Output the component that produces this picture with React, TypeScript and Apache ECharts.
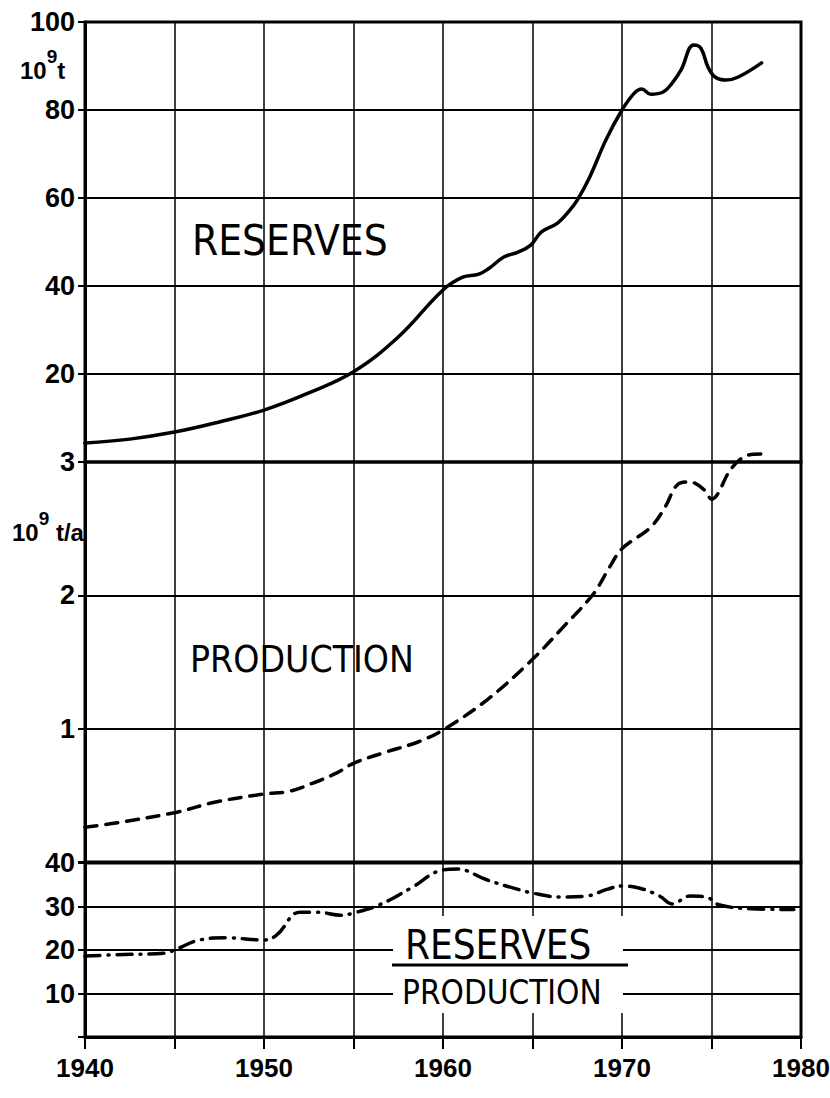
import React, { useEffect, useRef } from "react";
import * as echarts from "echarts";

const LABEL_FONT = "'DejaVu Sans Condensed', 'DejaVu Sans', sans-serif";
const TICK_FONT = "'Liberation Sans', Arial, sans-serif";

// x axis
const xMin = 1940;
const xMax = 1980;
const xStep = 5;

// Reserves (10^9 t)
const reserveYears = [1940, 1942.5, 1945, 1947.5, 1950, 1952.5, 1955, 1957.5, 1960, 1961.1, 1962, 1962.6, 1963.4, 1964.2, 1964.9, 1965.5, 1966.4, 1967.1, 1967.5, 1968.2, 1969.1, 1970, 1970.7, 1971.1, 1971.6, 1972.3, 1972.8, 1973.3, 1974, 1974.4, 1974.8, 1975.2, 1975.8, 1976.5, 1977.8];
const reserveValues = [4.3, 5.2, 6.8, 9.1, 11.8, 15.7, 20.5, 28.4, 39.1, 42.0, 42.7, 44.1, 46.6, 47.7, 49.3, 52.3, 54.3, 57.3, 59.5, 64.8, 73.2, 80, 83.9, 84.8, 83.6, 84.1, 86.1, 89.1, 94.8, 94.1, 89.8, 87.5, 86.8, 87.5, 90.7];

// Production (10^9 t/a)
const productionYears = [1940, 1941.6, 1945, 1947.3, 1950, 1951.4, 1952.7, 1954.1, 1955, 1956.7, 1958.6, 1960, 1962.5, 1965, 1966.7, 1968.4, 1969.3, 1970, 1971.6, 1972.4, 1973.1, 1973.8, 1974.6, 1975, 1976.1, 1977, 1977.8];
const productionValues = [0.26, 0.29, 0.37, 0.45, 0.51, 0.53, 0.59, 0.67, 0.74, 0.82, 0.9, 0.99, 1.22, 1.52, 1.76, 2.01, 2.21, 2.35, 2.51, 2.66, 2.83, 2.85, 2.79, 2.72, 2.95, 3.05, 3.06];

// Reserves / Production (years)
const ratioYears = [1940, 1941.7, 1944.5, 1945, 1946.4, 1947.9, 1950, 1950.7, 1952, 1953, 1954.3, 1955, 1956.4, 1958.2, 1960, 1960.8, 1962.4, 1963.8, 1965, 1966.5, 1968, 1969.2, 1970, 1971, 1972.1, 1972.8, 1973.8, 1974.7, 1975.4, 1977.2, 1979.6];
const ratioValues = [18.6, 18.9, 19.3, 20, 22.3, 22.8, 22.3, 23.4, 28.7, 28.7, 28, 28.5, 30.3, 34.2, 38.4, 38.6, 36.2, 34.4, 33.1, 32.2, 32.4, 34, 34.7, 34.2, 32.4, 30.6, 32.4, 32.2, 30.4, 29.5, 29.3];

// panel y scales
const reserveAxis = { min: 0, max: 100, interval: 20 };
const productionAxis = { min: 0, max: 3, interval: 1 };
const ratioAxis = { min: 0, max: 40, interval: 10 };

const pairs = (xs: number[], ys: number[]) => xs.map((x, i) => [x, ys[i]]);

export default function App() {
  const ref = useRef<HTMLDivElement>(null);
  useEffect(() => {
    if (!ref.current) return;
    const chart = echarts.init(ref.current, undefined, { renderer: "svg" });
    const gridBase = {
      left: 85,
      right: 29,
      show: true,
      borderColor: "#000",
      borderWidth: 3,
      backgroundColor: "transparent",
      outerBoundsMode: "none",
      containLabel: false,
    };
    const grids = [
      { ...gridBase, top: 22, height: 440 },
      { ...gridBase, top: 462, height: 400 },
      { ...gridBase, top: 863, height: 174 },
    ];
    const xAxisBase = (i: number) => ({
      type: "value",
      gridIndex: i,
      min: xMin,
      max: xMax,
      interval: xStep,
      axisLine: { show: i === 2, lineStyle: { color: "#000", width: 3 } },
      axisTick: { show: i === 2, length: 12, lineStyle: { color: "#000", width: 2 } },
      axisLabel: {
        show: i === 2,
        formatter: (v: number) => (v % 10 === 0 ? String(v) : ""),
        color: "#000",
        fontSize: 26,
        fontFamily: TICK_FONT,
        fontWeight: "bold",
        margin: 18,
      },
      splitLine: { show: true, lineStyle: { color: "#000", width: 1.5 } },
    });
    const yAxisBase = (i: number, ax: any) => ({
      type: "value",
      gridIndex: i,
      ...ax,
      axisLine: { show: true, lineStyle: { color: "#000", width: 3 } },
      axisTick: { show: true, length: 7, lineStyle: { color: "#000", width: 2 } },
      axisLabel: {
        formatter: (v: number) => (v === 0 ? "" : String(v)),
        color: "#000",
        fontSize: 27,
        fontFamily: TICK_FONT,
        fontWeight: "bold",
        margin: 10,
      },
      splitLine: { show: true, lineStyle: { color: "#000", width: 2 } },
    });
    const txt = (text: string, x: number, y: number, size: number) => ({
      type: "text",
      x,
      y,
      z: 100,
      style: {
        text,
        fill: "#000",
        fontSize: size,
        fontFamily: LABEL_FONT,
        textAlign: "left",
        textVerticalAlign: "middle",
        align: "left",
        verticalAlign: "middle",
      },
    });
    const unit = (text: string, x: number, y: number) => ({
      type: "text",
      x,
      y,
      z: 100,
      style: {
        text,
        fill: "#000",
        fontFamily: TICK_FONT,
        fontWeight: "bold",
        fontSize: 24,
        textAlign: "left",
        textVerticalAlign: "middle",
        align: "left",
        verticalAlign: "middle",
        rich: {
          a: { fontFamily: TICK_FONT, fontWeight: "bold", fontSize: 24, lineHeight: 46, fill: "#000" },
          s: { fontFamily: TICK_FONT, fontWeight: "bold", fontSize: 19, lineHeight: 19, verticalAlign: "top", fill: "#000" },
        },
      },
    });
    chart.setOption({
      animation: false,
      backgroundColor: "#fff",
      grid: grids,
      xAxis: [xAxisBase(0), xAxisBase(1), xAxisBase(2)],
      yAxis: [yAxisBase(0, reserveAxis), yAxisBase(1, productionAxis), yAxisBase(2, ratioAxis)],
      series: [
        {
          type: "line",
          name: "RESERVES",
          xAxisIndex: 0,
          yAxisIndex: 0,
          data: pairs(reserveYears, reserveValues),
          smooth: 0.4,
          showSymbol: false,
          clip: false,
          lineStyle: { color: "#000", width: 3.5, cap: "round" },
        },
        {
          type: "line",
          name: "PRODUCTION",
          xAxisIndex: 1,
          yAxisIndex: 1,
          data: pairs(productionYears, productionValues),
          smooth: 0.35,
          showSymbol: false,
          clip: false,
          lineStyle: { color: "#000", width: 3.5, type: [12, 9], cap: "round" },
        },
        {
          type: "line",
          name: "RESERVES/PRODUCTION",
          xAxisIndex: 2,
          yAxisIndex: 2,
          data: pairs(ratioYears, ratioValues),
          smooth: 0.4,
          showSymbol: false,
          clip: false,
          lineStyle: { color: "#000", width: 3.5, type: [15, 8, 1, 8], cap: "round" },
        },
      ],
      graphic: [
        unit("{a|10}{s|9}{a|t}", 20, 70),
        unit("{a|10}{s|9}{a| t/a}", 12, 532),
        txt("RESERVES", 192, 240, 42),
        txt("PRODUCTION", 190, 659, 37),
        {
          type: "rect",
          z: 90,
          shape: { x: 393, y: 916, width: 230, height: 97 },
          style: { fill: "#fff" },
        },
        txt("RESERVES", 405, 945, 40),
        {
          type: "line",
          z: 100,
          shape: { x1: 392, y1: 965, x2: 628, y2: 965 },
          style: { stroke: "#000", lineWidth: 3 },
        },
        txt("PRODUCTION", 402, 992, 33),
      ],
    });
    return () => chart.dispose();
  }, []);
  return <div ref={ref} style={{ position: "absolute", left: 0, top: 0, width: 830, height: 1098 }} />;
}
